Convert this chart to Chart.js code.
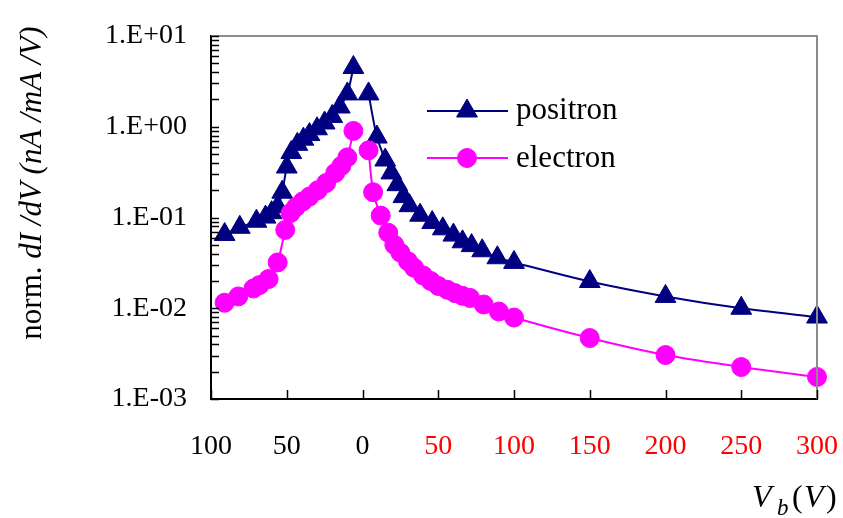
<!DOCTYPE html>
<html><head><meta charset="utf-8">
<script src="https://cdn.jsdelivr.net/npm/chart.js@4.4.0/dist/chart.umd.min.js"></script>
<style>html,body{margin:0;padding:0;background:#fff}#wrap{width:843px;height:518px}</style>
</head><body><div id="wrap"><canvas id="c" width="843" height="518"></canvas></div>
<script>
// Bias voltage (negative = left branch, shown as |V| in black), values in nA/mA/V
const positronV   = [-91,-81,-70,-64,-60,-56,-53,-50,-47,-43,-39,-35,-30,-25,-20,-15,-10,-6, 0, 4,9.5,15,19,23,27,31,38,46,53,60,66,72,79,89,100,150,200,250,300];
const positronVal = [0.065,0.078,0.091,0.101,0.113,0.132,0.19,0.36,0.52,0.64,0.73,0.82,0.95,1.1,1.3,1.65,2.3,4.5, null, 2.3,0.77,0.43,0.31,0.23,0.17,0.135,0.106,0.088,0.075,0.064,0.054,0.049,0.043,0.036,0.032,0.0197,0.0135,0.0100,0.0080];
const electronV   = [-91,-82,-72,-68,-62,-56,-51,-47.5,-44,-39.5,-35,-29.5,-24,-18,-14,-10,-6, 0, 4,7,12,17,21,25,30,34,40,45,50,56,61,66,71,80,90,100,150,200,250,300];
const electronVal = [0.0115,0.0135,0.0165,0.018,0.021,0.032,0.073,0.112,0.13,0.15,0.17,0.2,0.24,0.31,0.37,0.46,0.9, null, 0.55,0.19,0.105,0.068,0.05,0.041,0.033,0.028,0.023,0.02,0.0176,0.016,0.0147,0.0137,0.013,0.011,0.0092,0.0079,0.0047,0.00305,0.00225,0.00175];
const yTickValues = [0.001, 0.01, 0.1, 1, 10];
const seriesNames = ['positron', 'electron'];

const NAVY = '#000080', MAG = '#FF00FF';
const FONT = "'Liberation Serif', 'DejaVu Serif', serif";

function pts(xs, ys) { return xs.map((x, i) => ({x: x, y: ys[i]})); }
function fmtE(v) {
  const e = Math.round(Math.log10(v));
  const s = e < 0 ? '-' : '+';
  const a = Math.abs(e);
  return '1.E' + s + (a < 10 ? '0' : '') + a;
}

const framePlugin = {
  id: 'frame',
  afterDraw(chart) {
    const {ctx, chartArea: ca} = chart;
    const xs = chart.scales.x, ys = chart.scales.y;
    ctx.save();
    // top and right gray border
    ctx.strokeStyle = '#8c8c8c'; ctx.lineWidth = 2;
    ctx.beginPath();
    ctx.moveTo(ca.left, ca.top); ctx.lineTo(ca.right, ca.top); ctx.lineTo(ca.right, ca.bottom);
    ctx.stroke();
    // inner ticks
    ctx.strokeStyle = '#000'; ctx.lineWidth = 1.5;
    ctx.beginPath();
    for (let d = -3; d <= 0; d++) {
      for (let m = 1; m <= 9; m++) {
        const py = Math.round(ys.getPixelForValue(m * Math.pow(10, d))) + 0.5;
        ctx.moveTo(ca.left, py); ctx.lineTo(ca.left + 8, py);
      }
    }
    const pt = Math.round(ys.getPixelForValue(10)) + 0.5;
    ctx.moveTo(ca.left, pt); ctx.lineTo(ca.left + 8, pt);
    for (let v = -100; v <= 300; v += 50) {
      const px = Math.round(xs.getPixelForValue(v)) + 0.5;
      ctx.moveTo(px, ca.bottom); ctx.lineTo(px, ca.bottom - 9);
    }
    ctx.stroke();

    // legend
    const H = Chart.helpers;
    const leg = [
      {name: seriesNames[0], c: NAVY, style: 'triangle', r: 12, y: 111, by: 119},
      {name: seriesNames[1], c: MAG, style: 'circle', r: 9.5, y: 158, by: 167}
    ];
    leg.forEach(l => {
      ctx.strokeStyle = l.c; ctx.lineWidth = 2;
      ctx.beginPath(); ctx.moveTo(427, l.y); ctx.lineTo(508, l.y); ctx.stroke();
      ctx.fillStyle = l.c; ctx.strokeStyle = l.c; ctx.lineWidth = 1;
      H.drawPoint(ctx, {pointStyle: l.style, radius: l.r, rotation: 0, borderWidth: 1}, 467, l.y);
      ctx.fillStyle = '#000';
      ctx.font = '31px ' + FONT; ctx.textBaseline = 'alphabetic'; ctx.textAlign = 'left';
      ctx.fillText(l.name, 516, l.by);
    });

    // y axis title
    ctx.save();
    ctx.translate(41, 183);
    ctx.rotate(-Math.PI / 2);
    ctx.fillStyle = '#000';
    ctx.textBaseline = 'alphabetic'; ctx.textAlign = 'left';
    const parts = [
      {t: 'norm. ', f: '31px ' + FONT},
      {t: 'dI /dV (nA /mA /V)', f: 'italic 31px ' + FONT}
    ];
    let W = 0;
    parts.forEach(p => { ctx.font = p.f; W += ctx.measureText(p.t).width; });
    let x = -W / 2;
    parts.forEach(p => { ctx.font = p.f; ctx.fillText(p.t, x, 0); x += ctx.measureText(p.t).width; });
    ctx.restore();

    // x axis title V_b(V)
    ctx.fillStyle = '#000'; ctx.textAlign = 'left'; ctx.textBaseline = 'alphabetic';
    ctx.font = 'italic 32px ' + FONT; ctx.fillText('V', 752, 507);
    ctx.font = 'italic 23px ' + FONT; ctx.fillText('b', 777, 515);
    ctx.font = '32px ' + FONT; ctx.fillText('(', 792, 507);
    ctx.font = 'italic 32px ' + FONT; ctx.fillText('V', 804, 507);
    ctx.font = '32px ' + FONT; ctx.fillText(')', 826, 507);
    ctx.restore();
  }
};

new Chart(document.getElementById('c'), {
  type: 'line',
  data: {
    datasets: [
      {label: seriesNames[0], data: pts(positronV, positronVal), borderColor: NAVY, backgroundColor: NAVY,
       borderWidth: 2, pointStyle: 'triangle', pointRadius: 12, pointBorderWidth: 1,
       pointBackgroundColor: NAVY, pointBorderColor: NAVY, tension: 0.25, spanGaps: false, clip: false, order: 2},
      {label: seriesNames[1], data: pts(electronV, electronVal), borderColor: MAG, backgroundColor: MAG,
       borderWidth: 2, pointStyle: 'circle', pointRadius: 9.5, pointBorderWidth: 1,
       pointBackgroundColor: MAG, pointBorderColor: MAG, tension: 0.25, spanGaps: false, clip: false, order: 1}
    ]
  },
  options: {
    responsive: false, animation: false, devicePixelRatio: 1,
    layout: {padding: {left: 0, right: 26, top: 36, bottom: 0}},
    plugins: {legend: {display: false}, tooltip: {enabled: false}},
    scales: {
      x: {
        type: 'linear', min: -100, max: 300,
        grid: {display: false, drawTicks: false},
        border: {display: true, color: '#000', width: 2},
        ticks: {
          stepSize: 50, padding: 31,
          font: {family: FONT, size: 28},
          color: (c) => (c.tick && c.tick.value > 0) ? '#FF0000' : '#000000',
          callback: (v) => String(Math.abs(v)),
          maxRotation: 0, autoSkip: false
        },
        afterFit: (s) => { s.height = 119; s.paddingLeft = 0; s.paddingRight = 0; }
      },
      y: {
        type: 'logarithmic', min: 0.001, max: 10,
        grid: {display: false, drawTicks: false},
        border: {display: true, color: '#000', width: 2},
        afterBuildTicks: (s) => { s.ticks = yTickValues.map(v => ({value: v, major: true})); },
        ticks: {
          padding: 24, font: {family: FONT, size: 28}, color: '#000',
          callback: (v) => fmtE(v), autoSkip: false
        },
        afterFit: (s) => { s.width = 211; s.paddingTop = 0; s.paddingBottom = 0; }
      }
    }
  },
  plugins: [framePlugin]
});
</script></body></html>
